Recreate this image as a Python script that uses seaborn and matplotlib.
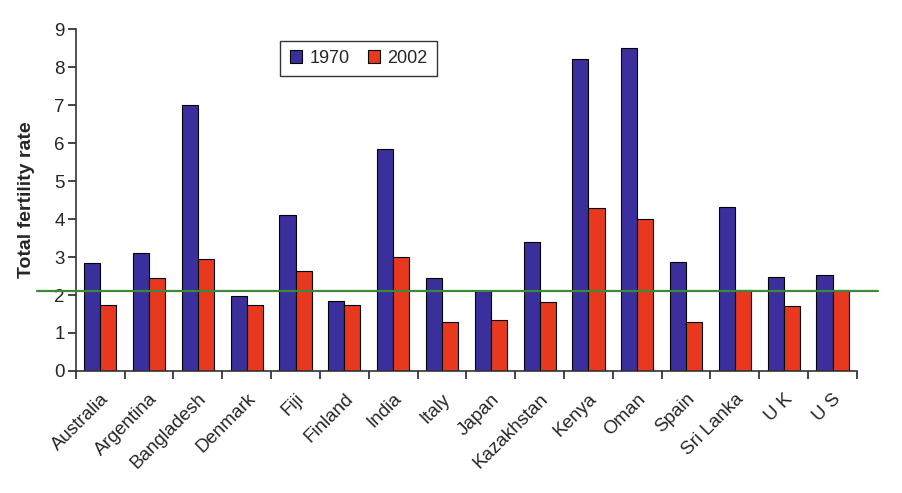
import numpy as np
import pandas as pd
import matplotlib
matplotlib.use("Agg")
import matplotlib.pyplot as plt
import seaborn as sns

countries = ["Australia", "Argentina", "Bangladesh", "Denmark", "Fiji", "Finland",
             "India", "Italy", "Japan", "Kazakhstan", "Kenya", "Oman", "Spain",
             "Sri Lanka", "U K", "U S"]
tfr_1970 = [2.85, 3.1, 7.0, 1.97, 4.1, 1.85, 5.85, 2.45, 2.1, 3.4, 8.2, 8.5, 2.88, 4.32, 2.47, 2.52]
tfr_2002 = [1.75, 2.46, 2.96, 1.74, 2.64, 1.74, 3.0, 1.3, 1.35, 1.82, 4.28, 4.0, 1.3, 2.12, 1.7, 2.13]
years = ["1970", "2002"]
replacement = 2.1

df = pd.DataFrame({
    "country": countries * 2,
    "year": [years[0]] * len(countries) + [years[1]] * len(countries),
    "tfr": tfr_1970 + tfr_2002,
})

sns.set_style("white")
plt.rcParams["font.family"] = ["Liberation Sans", "DejaVu Sans"]

fig = plt.figure(figsize=(9.03, 4.93), dpi=100)
ax = fig.add_axes([0.084, 0.2475, 0.865, 0.6935])

palette = {"1970": "#3a2f9c", "2002": "#e8381e"}
sns.barplot(data=df, x="country", y="tfr", hue="year", palette=palette,
            width=0.66, edgecolor="black", linewidth=0.8, saturation=1,
            ax=ax, legend=True)

ax.set_xlim(-0.5, len(countries) - 0.5)
ax.set_ylim(0, 9)
ax.set_yticks(range(0, 10))
ax.tick_params(axis="y", labelsize=13.5, length=6, width=1.2, direction="out", pad=2, left=True)

# x ticks at category boundaries, labels at centers
ax.set_xticks(np.arange(-0.5, len(countries), 1.0))
ax.set_xticklabels([])
ax.set_xticks(np.arange(len(countries)), minor=True)
ax.set_xticklabels(countries, minor=True, rotation=45, ha="right",
                   rotation_mode="anchor", fontsize=13.5)
ax.tick_params(axis="x", which="major", length=6, width=1.2, direction="out", bottom=True)
ax.tick_params(axis="x", which="minor", length=0, pad=14)

ax.set_xlabel("")
ax.set_ylabel("Total fertility rate", fontsize=14, fontweight="bold", labelpad=14)

for side in ["top", "right"]:
    ax.spines[side].set_visible(False)
for side in ["left", "bottom"]:
    ax.spines[side].set_linewidth(1.2)
    ax.spines[side].set_color("#333333")

# replacement-level line extending beyond axes
trans = matplotlib.transforms.blended_transform_factory(ax.transAxes, ax.transData)
ax.plot([-0.05, 1.027], [replacement, replacement], color="#3a8a3a", lw=1.6,
        transform=trans, clip_on=False, zorder=5)

leg = ax.legend(loc="upper left", bbox_to_anchor=(0.262, 0.965), borderaxespad=0,
                ncol=2, fontsize=13, frameon=True, fancybox=False, edgecolor="black",
                handlelength=0.7, handleheight=0.7, handletextpad=0.4,
                columnspacing=1.0, borderpad=0.5, title=None)
leg.get_frame().set_linewidth(1.0)

fig.savefig("out.png", dpi=100)
